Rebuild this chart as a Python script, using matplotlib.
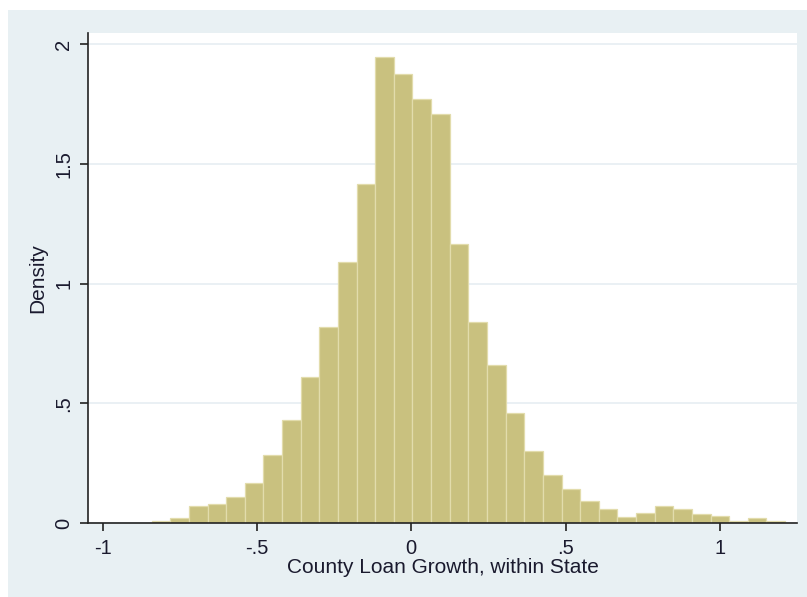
import numpy as np
import matplotlib
matplotlib.use("Agg")
import matplotlib.pyplot as plt

# histogram bins (Stata style)
bin_start = -0.841
bin_width = 0.06034
density = [0.008, 0.02, 0.072, 0.08, 0.107, 0.166, 0.285, 0.43, 0.61, 0.82,
           1.09, 1.415, 1.947, 1.874, 1.77, 1.706, 1.165, 0.84, 0.66, 0.46,
           0.30, 0.20, 0.142, 0.093, 0.057, 0.026, 0.043, 0.072, 0.057, 0.036,
           0.028, 0.008, 0.02, 0.008]

x_ticks = [-1, -0.5, 0, 0.5, 1]
x_labels = ["-1", "-.5", "0", ".5", "1"]
y_ticks = [0, 0.5, 1, 1.5, 2]
y_labels = ["0", ".5", "1", "1.5", "2"]

W, H = 807, 597
bg = "#e8f0f3"
bar_face = "#c9c17f"
bar_edge = "#e2dcac"
txt = "#1a1a2e"

plt.rcParams["font.family"] = ["Liberation Sans", "DejaVu Sans"]

fig = plt.figure(figsize=(W / 100, H / 100), dpi=100)
fig.patch.set_facecolor("white")

# light blue graph region, white strip at top/left
bg_ax = fig.add_axes([8 / W, 0, 1 - 8 / W, 1 - 10 / H], zorder=-5)
bg_ax.set_facecolor(bg)
bg_ax.set_xticks([])
bg_ax.set_yticks([])
for s in bg_ax.spines.values():
    s.set_visible(False)

ax = fig.add_axes([88 / W, 1 - 523 / H, (797 - 88) / W, (523 - 33) / H])
ax.set_facecolor("white")

edges = bin_start + bin_width * np.arange(len(density) + 1)
ax.bar(edges[:-1], density, width=bin_width, align="edge",
       color=bar_face, edgecolor=bar_edge, linewidth=0.9, zorder=2)

ax.set_xlim(-1.047, 1.249)
ax.set_ylim(0, 2.046)

ax.set_xticks(x_ticks)
ax.set_xticklabels(x_labels)
ax.set_yticks(y_ticks)
ax.set_yticklabels(y_labels, rotation=90, va="center")

ax.grid(axis="y", color="#e6eef2", linewidth=1.2, zorder=1)
ax.set_axisbelow(True)

for side in ["top", "right"]:
    ax.spines[side].set_visible(False)
for side in ["left", "bottom"]:
    ax.spines[side].set_color("#222222")
    ax.spines[side].set_linewidth(1.2)

ax.tick_params(axis="both", direction="out", length=5.5, width=1.2,
               color="#222222", labelsize=14.5, labelcolor=txt)
ax.tick_params(axis="x", pad=6)
ax.tick_params(axis="y", pad=5)

ax.set_xlabel("County Loan Growth, within State", fontsize=15, color=txt)
ax.set_ylabel("Density", fontsize=15, color=txt)
ax.xaxis.set_label_coords(0.5, -0.071)
ax.yaxis.set_label_coords(-0.057, 0.5)

fig.savefig("out.png", dpi=100, facecolor=fig.get_facecolor())
